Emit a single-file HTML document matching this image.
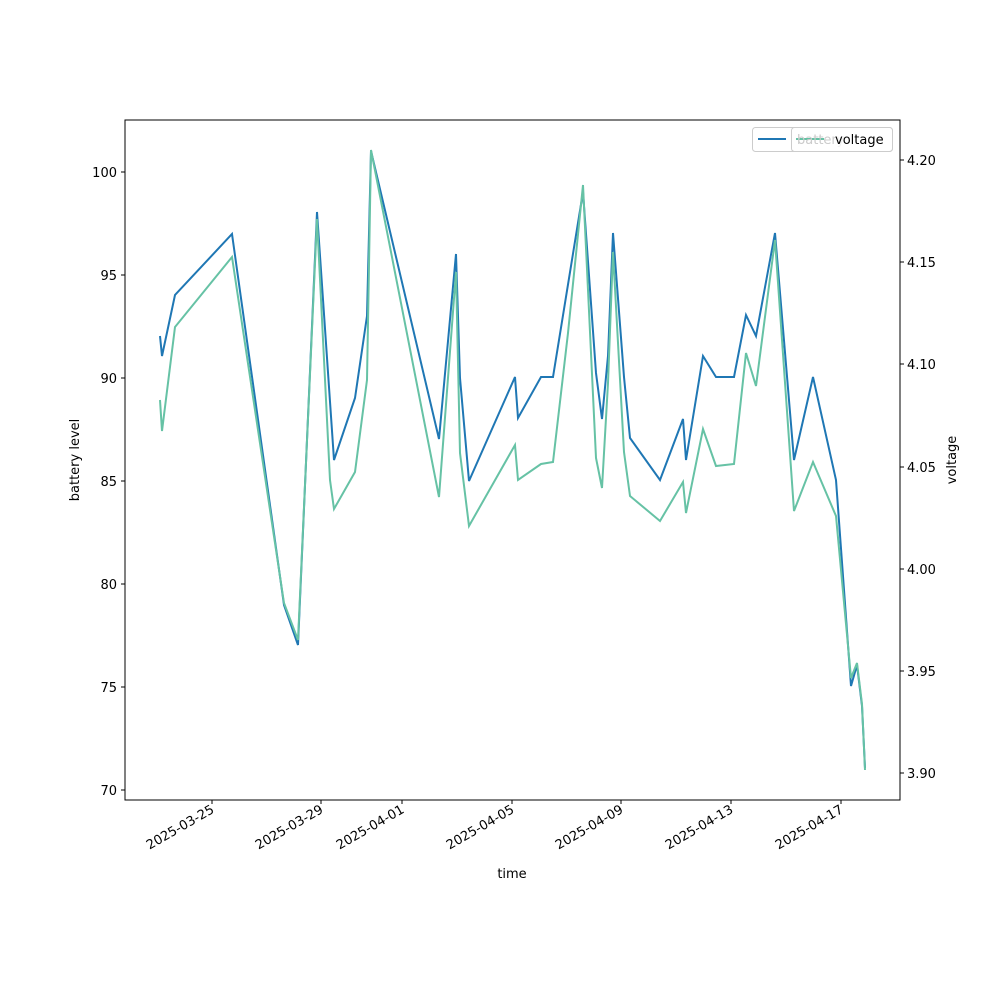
<!DOCTYPE html>
<html><head><style>body{margin:0;background:#fff}</style></head><body>
<svg width="1000" height="1000" xmlns="http://www.w3.org/2000/svg" font-family="DejaVu Sans, Liberation Sans, sans-serif" font-size="13">
<rect width="1000" height="1000" fill="#fff"/>
<polyline fill="none" stroke="#1f77b4" stroke-width="2" points="160,336 162,356 175,295 232,234 284,605 298,645 317,212 334,460 355,398 367,316 371,151 439,439 456,254 460,378 469,481 515,377 518,418 541,377 553,377 583,192 596,373 602,419 608,356 613,233 624,377 630,438 660,480 683,419 686,460 703,356 716,377 734,377 746,315 756,336 775,233 794,460 813,377 836,480 851,686 857,665 862,706 865,768"/>
<polyline fill="none" stroke="#66c2a5" stroke-width="2" points="160,400 162,431 175,327 232,257 284,603 298,640 317,219 330,480 334,509 355,472 367,380 371,150 439,497 456,272 460,453 469,526 515,445 518,480 541,464 553,462 568,333 583,185 596,458 602,488 608,383 613,252 624,452 630,496 660,521 683,482 686,513 703,429 716,466 734,464 746,353 756,386 775,240 794,511 813,462 836,516 851,678 857,663 862,704 865,770"/>
<rect x="125" y="120" width="775" height="680" fill="none" stroke="#000" stroke-width="1"/>
<g stroke="#000">
<line x1="125" x2="121" y1="172" y2="172"/><line x1="125" x2="121" y1="275" y2="275"/><line x1="125" x2="121" y1="378" y2="378"/><line x1="125" x2="121" y1="481" y2="481"/><line x1="125" x2="121" y1="584" y2="584"/><line x1="125" x2="121" y1="687" y2="687"/><line x1="125" x2="121" y1="790" y2="790"/>
<line x1="900" x2="904" y1="160" y2="160"/><line x1="900" x2="904" y1="262" y2="262"/><line x1="900" x2="904" y1="364" y2="364"/><line x1="900" x2="904" y1="467" y2="467"/><line x1="900" x2="904" y1="569" y2="569"/><line x1="900" x2="904" y1="671" y2="671"/><line x1="900" x2="904" y1="773" y2="773"/>
<line x1="212" x2="212" y1="800" y2="804"/><line x1="321" x2="321" y1="800" y2="804"/><line x1="402" x2="402" y1="800" y2="804"/><line x1="512" x2="512" y1="800" y2="804"/><line x1="621" x2="621" y1="800" y2="804"/><line x1="731" x2="731" y1="800" y2="804"/><line x1="841" x2="841" y1="800" y2="804"/>
</g>
<g text-anchor="end">
<text x="117" y="177">100</text><text x="117" y="280">95</text><text x="117" y="383">90</text><text x="117" y="486">85</text><text x="117" y="589">80</text><text x="117" y="692">75</text><text x="117" y="795">70</text>
</g>
<g>
<text x="907" y="165">4.20</text><text x="907" y="267">4.15</text><text x="907" y="369">4.10</text><text x="907" y="472">4.05</text><text x="907" y="574">4.00</text><text x="907" y="676">3.95</text><text x="907" y="778">3.90</text>
</g>
<g text-anchor="end">
<text transform="translate(215,812) rotate(-30)">2025-03-25</text>
<text transform="translate(324,812) rotate(-30)">2025-03-29</text>
<text transform="translate(405,812) rotate(-30)">2025-04-01</text>
<text transform="translate(515,812) rotate(-30)">2025-04-05</text>
<text transform="translate(624,812) rotate(-30)">2025-04-09</text>
<text transform="translate(734,812) rotate(-30)">2025-04-13</text>
<text transform="translate(844,812) rotate(-30)">2025-04-17</text>
</g>
<text x="512" y="878" text-anchor="middle">time</text>
<text transform="translate(79,460) rotate(-90)" text-anchor="middle">battery level</text>
<text transform="translate(956,460) rotate(-90)" text-anchor="middle">voltage</text>
<rect x="752.5" y="127.5" width="140" height="24" rx="3" fill="#fff" stroke="#ccc"/>
<line x1="758" x2="786" y1="139" y2="139" stroke="#1f77b4" stroke-width="2"/>
<text x="797" y="144" fill="#bbb">battery</text>
<rect x="791.5" y="127.5" width="101" height="24" rx="3" fill="#fff" fill-opacity="0.8" stroke="#ccc"/>
<line x1="796" x2="824" y1="139" y2="139" stroke="#66c2a5" stroke-width="2"/>
<text x="797" y="144" fill="#ccc">batter</text>
<text x="835" y="144">voltage</text>
</svg>
</body></html>
